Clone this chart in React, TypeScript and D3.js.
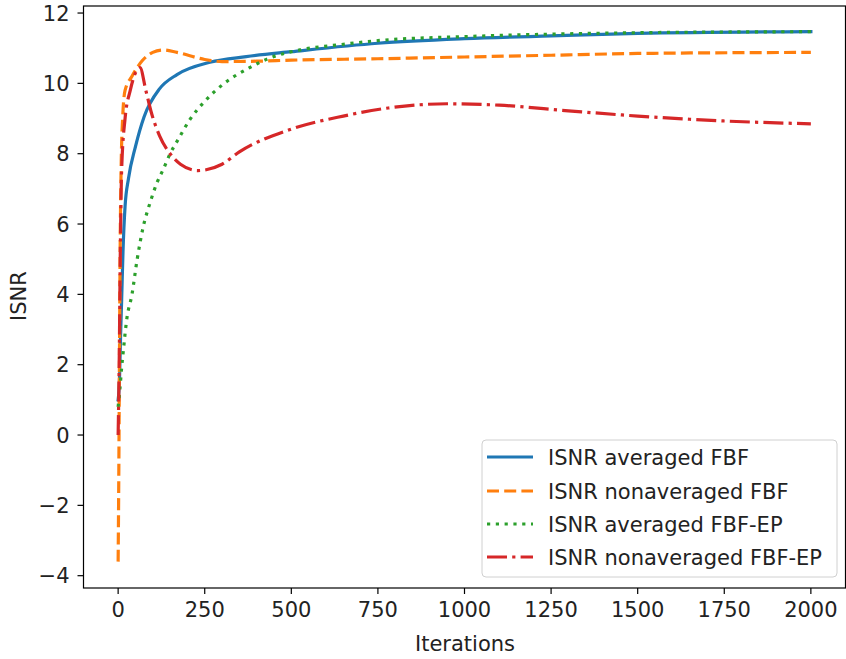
import React from "react";
import * as d3 from "d3";

const xTicks = [0, 250, 500, 750, 1000, 1250, 1500, 1750, 2000];
const yTicks = [-4, -2, 0, 2, 4, 6, 8, 10, 12];

const avgFBF: [number, number][] = [
  [0, 1.0], [4, 1.6], [7, 2.8], [10, 3.8], [14, 5.2], [20, 6.5], [30, 7.3], [50, 8.2], [75, 9.05],
  [120, 9.85], [170, 10.25], [265, 10.6], [370, 10.76], [500, 10.9], [750, 11.14],
  [1000, 11.27], [1250, 11.35], [1500, 11.42], [2000, 11.47],
];
const nonavgFBF: [number, number][] = [
  [0, -3.6], [2, -1.0], [4, 2.5], [6, 5.5], [9, 7.8], [13, 9.0], [20, 9.8], [40, 10.2],
  [70, 10.65], [100, 10.88], [130, 10.95], [170, 10.88], [250, 10.68], [300, 10.62],
  [400, 10.63], [500, 10.66], [750, 10.7], [1000, 10.75], [1250, 10.8], [1500, 10.85], [2000, 10.88],
];
const avgFBFEP: [number, number][] = [
  [0, 0.8], [5, 1.3], [10, 1.9], [15, 2.4], [25, 3.3], [40, 4.0], [55, 5.0], [72, 5.9],
  [92, 6.6], [112, 7.17], [130, 7.55], [150, 8.0], [173, 8.4], [207, 8.97], [251, 9.5],
  [300, 9.95], [380, 10.45], [440, 10.73], [530, 10.96], [640, 11.1], [755, 11.22],
  [1000, 11.33], [1250, 11.4], [1500, 11.44], [2000, 11.47],
];
const nonavgFBFEP: [number, number][] = [
  [0, 0.0], [3, 2.0], [6, 5.0], [10, 7.5], [20, 9.0], [35, 9.8], [50, 10.3], [63, 10.45],
  [80, 9.8], [95, 9.2], [120, 8.5], [150, 8.0], [180, 7.7], [230, 7.52], [300, 7.7],
  [350, 8.05], [500, 8.7], [650, 9.07], [780, 9.3], [950, 9.42], [1100, 9.38], [1300, 9.22],
  [1500, 9.07], [1750, 8.93], [2000, 8.85],
];

const seriesNames = [
  "ISNR averaged FBF",
  "ISNR nonaveraged FBF",
  "ISNR averaged FBF-EP",
  "ISNR nonaveraged FBF-EP",
];
const seriesColors = ["#1f77b4", "#ff7f0e", "#2ca02c", "#d62728"];
const seriesDash = ["none", "12,5.2", "3.2,5.6", "20,5.2,3.2,5.2"];
const seriesData = [avgFBF, nonavgFBF, avgFBFEP, nonavgFBFEP];

export default function App() {
  const W = 846, H = 659;
  const left = 83.5, right = 845.5, top = 6, bottom = 588;
  const x = d3.scaleLinear().domain([-100, 2100]).range([left, right]);
  const y = d3.scaleLinear().domain([-4.35, 12.2]).range([bottom, top]);
  const line = d3
    .line<[number, number]>()
    .x((d) => x(d[0]))
    .y((d) => y(d[1]))
    .curve(d3.curveMonotoneX);
  const font = "DejaVu Sans, sans-serif";
  const fs = 21;
  const lw = 3.2;

  const legX = 482, legY = 440, legW = 355, legH = 137;
  const rowY = [457, 491, 524, 557];

  return (
    <svg
      width={W}
      height={H}
      style={{ position: "absolute", left: 0, top: 0, background: "#fff" }}
      fontFamily={font}
    >
      <rect x={0} y={0} width={W} height={H} fill="#fff" />
      <defs>
        <clipPath id="plot">
          <rect x={left} y={top} width={right - left} height={bottom - top} />
        </clipPath>
      </defs>
      <g clipPath="url(#plot)">
        {seriesData.map((d, i) => (
          <path
            key={i}
            d={line(d) || ""}
            fill="none"
            stroke={seriesColors[i]}
            strokeWidth={lw}
            strokeDasharray={seriesDash[i]}
            strokeLinecap={i === 0 ? "square" : "butt"}
          />
        ))}
      </g>
      <rect
        x={left}
        y={top}
        width={right - left}
        height={bottom - top}
        fill="none"
        stroke="#000"
        strokeWidth={1.2}
      />
      {xTicks.map((t) => (
        <g key={t}>
          <line x1={x(t)} x2={x(t)} y1={bottom} y2={bottom + 6} stroke="#000" strokeWidth={1.2} />
          <text x={x(t)} y={bottom + 29} textAnchor="middle" fontSize={fs} fill="#222">
            {t}
          </text>
        </g>
      ))}
      {yTicks.map((t) => (
        <g key={t}>
          <line x1={left - 6} x2={left} y1={y(t)} y2={y(t)} stroke="#000" strokeWidth={1.2} />
          <text
            x={left - 14}
            y={y(t)}
            dy="0.36em"
            textAnchor="end"
            fontSize={fs}
            fill="#222"
          >
            {t < 0 ? "\u2212" + Math.abs(t) : t}
          </text>
        </g>
      ))}
      <text x={465} y={651} textAnchor="middle" fontSize={fs} fill="#222">
        Iterations
      </text>
      <text
        transform={`translate(26,296) rotate(-90)`}
        textAnchor="middle"
        fontSize={fs}
        fill="#222"
      >
        ISNR
      </text>
      <rect
        x={legX}
        y={legY}
        width={legW}
        height={legH}
        rx={4}
        fill="#fff"
        fillOpacity={0.8}
        stroke="#d0d0d0"
        strokeWidth={1}
      />
      {seriesNames.map((n, i) => (
        <g key={n}>
          <line
            x1={487}
            x2={533}
            y1={rowY[i]}
            y2={rowY[i]}
            stroke={seriesColors[i]}
            strokeWidth={lw}
            strokeDasharray={seriesDash[i]}
          />
          <text x={548} y={rowY[i]} dy="0.36em" fontSize={fs} fill="#222">
            {n}
          </text>
        </g>
      ))}
    </svg>
  );
}
